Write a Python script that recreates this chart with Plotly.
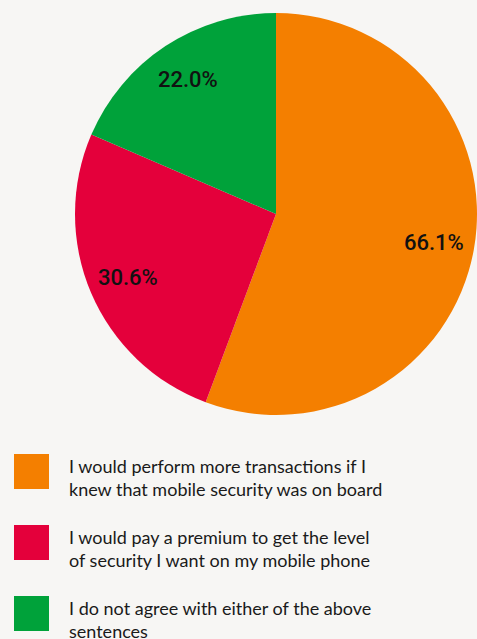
import math
import plotly.graph_objects as go

# Survey answers and their shares (%)
labels = [
    "I would perform more transactions if I<br>knew that mobile security was on board",
    "I would pay a premium to get the level<br>of security I want on my mobile phone",
    "I do not agree with either of the above<br>sentences",
]
values = [66.1, 30.6, 22.0]
colors = ["#f47f00", "#e4003b", "#00a23a"]

W, H = 477, 639
BG = "#f7f6f4"
FONT = "Lato"

# pie placement (pixels): centre and radius
CX, CY, R = 276, 214, 201

fig = go.Figure(
    go.Pie(
        labels=labels,
        values=values,
        marker=dict(colors=colors, line=dict(width=0)),
        sort=False,
        direction="clockwise",
        rotation=0,
        textinfo="none",
        hoverinfo="label+value",
        showlegend=False,
        domain=dict(x=[(CX - R) / W, min(1.0, (CX + R) / W)],
                    y=[1 - (CY + R) / H, 1 - (CY - R) / H]),
    )
)

annotations = []

# value labels at 80% of the radius, on each slice's mid-angle
total = sum(values)
start = 0.0
for v in values:
    mid = start + v / total * 360 / 2
    start += v / total * 360
    a = math.radians(mid)
    px = CX + 0.8 * R * math.sin(a)
    py = CY - 0.8 * R * math.cos(a)
    annotations.append(
        dict(
            text=f"{v:.1f}%", xref="paper", yref="paper",
            x=px / W, y=1 - py / H, xanchor="center", yanchor="middle",
            showarrow=False,
            font=dict(family="Roboto", size=22, color="#111111", weight=500),
        )
    )

# Custom legend: large colour squares with two-line captions
shapes = []
top0, step, size = 454, 71, 35
for i, (lab, col) in enumerate(zip(labels, colors)):
    top = top0 + i * step
    shapes.append(
        dict(
            type="rect", xref="paper", yref="paper",
            x0=14 / W, x1=(14 + size) / W,
            y0=1 - (top + size) / H, y1=1 - top / H,
            fillcolor=col, line=dict(width=0),
        )
    )
    annotations.append(
        dict(
            text=lab, xref="paper", yref="paper",
            x=67 / W, y=1 - (top - 1) / H,
            xanchor="left", yanchor="top", align="left",
            showarrow=False,
            font=dict(family=FONT, size=18, color="#1a1a1a"),
        )
    )

fig.update_layout(
    width=W, height=H,
    margin=dict(l=0, r=0, t=0, b=0),
    paper_bgcolor=BG, plot_bgcolor=BG,
    shapes=shapes, annotations=annotations,
)

fig.write_html("out.html")
